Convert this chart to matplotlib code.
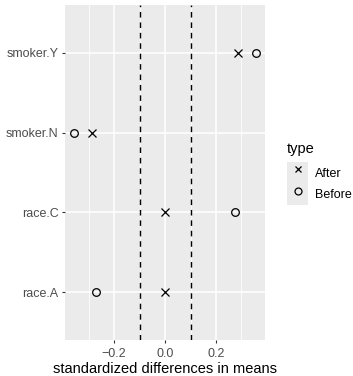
import matplotlib
matplotlib.use("Agg")
import matplotlib.pyplot as plt
from matplotlib.lines import Line2D
from matplotlib.patches import Patch
from matplotlib.legend_handler import HandlerTuple

plt.rcParams['font.family'] = ['Liberation Sans', 'DejaVu Sans']

# values
covariates = ["race.A", "race.C", "smoker.N", "smoker.Y"]
before = [-0.272, 0.276, -0.356, 0.357]
after = [0.0, 0.0, -0.286, 0.287]
thresholds = [-0.1, 0.1]
xticks = [-0.2, 0.0, 0.2]
xtick_labels = ["\u22120.2", "0.0", "0.2"]
xminor = [-0.3, -0.1, 0.1, 0.3]

PANEL = "#EBEBEB"
TEXT = "#4D4D4D"
SMALL = 9.0
BIG = 10.5

fig = plt.figure(figsize=(3.53, 3.76), dpi=100)
ax = fig.add_axes([0.184, 0.096, 0.567, 0.891])
ax.set_facecolor(PANEL)
for s in ax.spines.values():
    s.set_visible(False)

ypos = list(range(1, len(covariates) + 1))

ax.set_xticks(xticks)
ax.set_xticklabels(xtick_labels)
ax.set_xticks(xminor, minor=True)
ax.set_yticks(ypos)
ax.set_yticklabels(covariates)
ax.grid(True, which="major", color="white", lw=1.1)
ax.grid(True, which="minor", axis="x", color="white", lw=0.55)
ax.set_axisbelow(True)
ax.tick_params(which="major", length=2.5, width=0.8, color="#333333",
               labelcolor=TEXT, labelsize=SMALL, pad=2)
ax.tick_params(axis="x", which="major", pad=3.5)
ax.tick_params(which="minor", length=0)

for t in thresholds:
    ax.axvline(t, color="black", lw=1.0, ls=(0, (4, 3.5)), zorder=2)

ax.plot(after, ypos, ls="none", marker="x", ms=5.5, mew=0.9,
        color="black", zorder=3)
ax.plot(before, ypos, ls="none", marker="o", ms=5.5, mew=0.9,
        mfc="none", color="black", zorder=3)

span = max(abs(v) for v in before + after)
ax.set_xlim(-span * 1.1, span * 1.1)
ax.set_ylim(0.4, len(covariates) + 0.6)
ax.set_xlabel("standardized differences in means", fontsize=BIG,
              color="black", labelpad=1.5)

# legend: title as its own text, keys with grey background
fig.text(0.813, 1 - 153 / 376, "type", fontsize=BIG, va="baseline",
         ha="left")
key = Patch(facecolor=PANEL, edgecolor="none")
h_after = Line2D([], [], ls="none", marker="x", ms=5, mew=0.9, color="black")
h_before = Line2D([], [], ls="none", marker="o", ms=5, mew=0.9,
                  mfc="none", color="black")
leg = fig.legend([(key, h_after), (key, h_before)], ["After", "Before"],
                 handler_map={tuple: HandlerTuple(ndivide=1)},
                 loc="upper left", bbox_to_anchor=(0.813, 1 - 162 / 376),
                 frameon=False, fontsize=SMALL,
                 handlelength=1.72, handleheight=2.27, handletextpad=0.55,
                 labelspacing=0.0, borderpad=0, borderaxespad=0)
for txt in leg.get_texts():
    txt.set_color("black")

fig.savefig("out.png", dpi=100)
